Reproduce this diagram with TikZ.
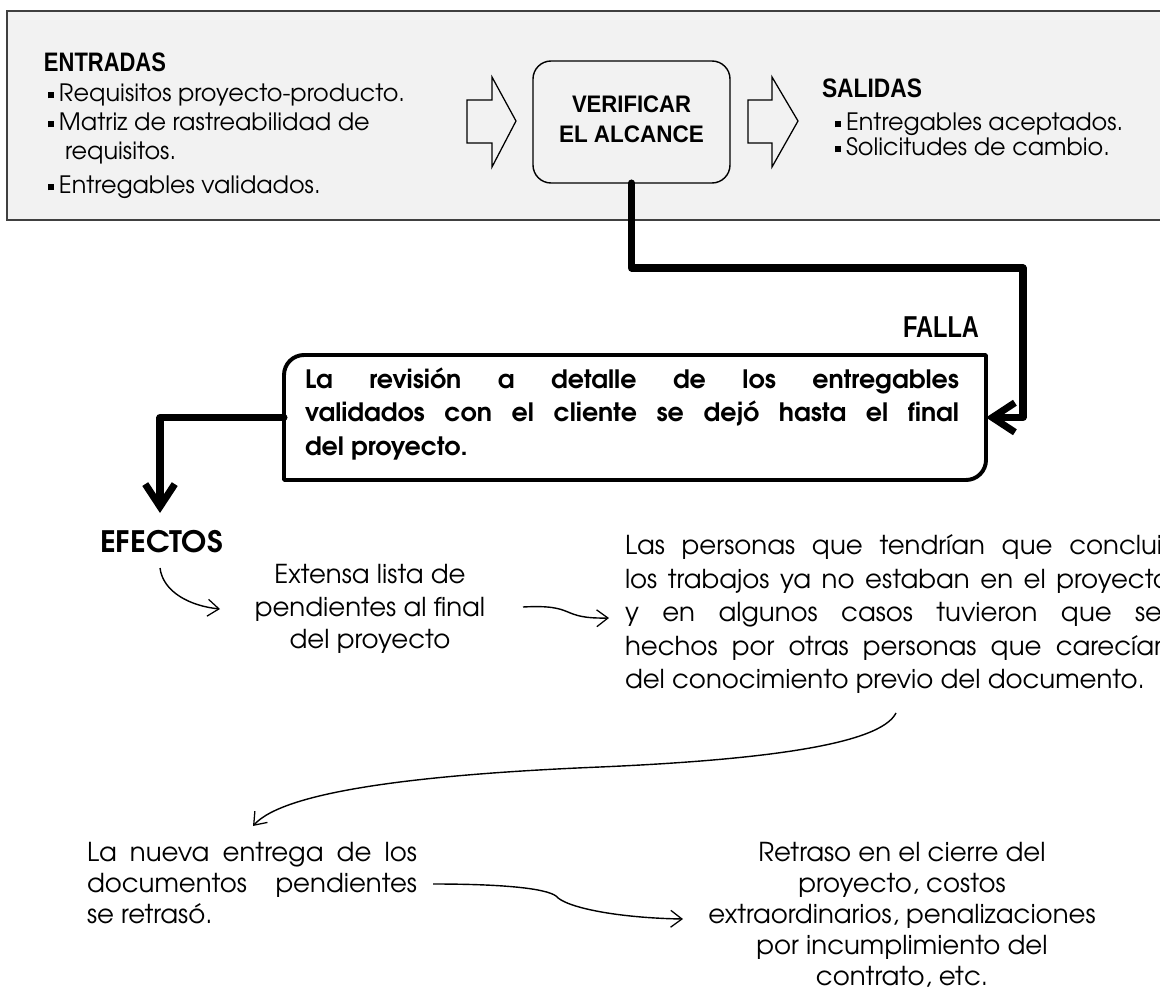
\documentclass[tikz,border=0pt]{standalone}
\usepackage{fontspec}
\setmainfont{texgyreadventor}[Extension=.otf,UprightFont=*-regular,BoldFont=*-bold,ItalicFont=*-italic,BoldItalicFont=*-bolditalic]
\newfontfamily\hdf{Liberation Sans}
\usetikzlibrary{arrows.meta}
\newlength\px \setlength\px{0.025cm}
\newcommand\hdw[3]{\resizebox{#1\px}{\height}{\fontsize{#2}{#2}\selectfont\hdf\bfseries #3}}
\newcommand\hdv[3]{\resizebox{#1\px}{\height}{\fontsize{#2}{#2}\selectfont\bfseries #3}}
\newcommand\bul{\rule[3.5\px]{6\px}{6\px}\hspace{5\px}}
\definecolor{boxgray}{HTML}{F2F2F2}
\definecolor{edge}{HTML}{404040}
\begin{document}
\begin{tikzpicture}[x=0.025cm,y=-0.025cm,
  every node/.style={inner sep=0pt,outer sep=0pt},
  item/.style={anchor=mid west,font=\fontsize{17}{20}\selectfont},
  body/.style={font=\fontsize{18.5}{22}\selectfont},
  bodyL/.style={body,anchor=mid west},
  bodyC/.style={body,anchor=mid},
  boldL/.style={anchor=mid west,font=\fontsize{18}{22}\selectfont\bfseries},
  hdr/.style={anchor=west},
  hollow/.style={draw=black,line width=0.9pt,fill=boxgray,line join=miter},
  heavy/.style={line width=5pt,line join=round,line cap=round},
  heavytip/.style={-{Straight Barb[length=16pt,width=21pt,line width=5pt]}},
  thinarrow/.style={line width=1pt,-{Straight Barb[length=8pt,width=12pt,line width=0.9pt]}}]
\useasboundingbox (0,0) rectangle (1160,998);
\clip (0,0) rectangle (1160,998);

% top region
\node[draw=edge,fill=boxgray,line width=1.1pt,minimum width=1163\px,minimum height=209\px,anchor=north west] (topbox) at (7,11) {};
\node[hdr] (ent) at (44,62) {\hdw{122}{19}{ENTRADAS}};
\node[item] (i1) at (48,98) {\bul Requisitos proyecto-producto.};
\node[item] (i2) at (48,127) {\bul Matriz de rastreabilidad de};
\node[item] (i3) at (65,156) {requisitos.};
\node[item] (i4) at (48,190) {\bul Entregables validados.};

\draw[hollow] (467,100) -- (492,100) -- (492,77) -- (516,121) -- (492,167) -- (492,143) -- (467,143) -- cycle;
\node[draw=black,line width=1pt,fill=boxgray,rounded corners=18\px,minimum width=197\px,minimum height=122\px] (ver) at (631.5,122) {};
\node (v1) at (631.5,104) {\hdw{119}{17}{VERIFICAR}};
\node (v2) at (631.5,134) {\hdw{145}{17}{EL ALCANCE}};
\draw[hollow] (748,100) -- (772,100) -- (772,77) -- (798,121) -- (772,167) -- (772,143) -- (748,143) -- cycle;

\node[hdr] (sal) at (822,88) {\hdw{100}{19}{SALIDAS}};
\node[item] (o1) at (835,127) {\bul Entregables aceptados.};
\node[item] (o2) at (835,152) {\bul Solicitudes de cambio.};

% failure
\node[anchor=east] (fal) at (979,327) {\hdw{76}{21.5}{FALLA}};
\node[minimum width=702\px,minimum height=125\px] (fb) at (635,417.5) {};
\draw[line width=2.8pt,line join=round]
  (fb.south west) -- ([yshift=-20\px]fb.north west) arc(180:90:20\px)
  -- (fb.north east) -- ([yshift=20\px]fb.south east) arc(0:-90:20\px) -- cycle;
\node[boldL] (f1) at (305,385) {\makebox[654\px][s]{La revisión a detalle de los entregables}};
\node[boldL] (f2) at (305,418) {\makebox[654\px][s]{validados con el cliente se dejó hasta el final}};
\node[boldL] (f3) at (305,452) {del proyecto.};

\coordinate (k1) at (1023,268);
\draw[heavy,heavytip] (ver.south) |- (k1) |- (fb.east);
\coordinate (dn) at (160,513);
\draw[heavy,heavytip] (fb.west) -| (dn);

% effects
\node[hdr] (efe) at (100,542) {\hdv{123}{21}{EFECTOS}};
\node[bodyC] (x1) at (370,580) {Extensa lista de};
\node[bodyC] (x2) at (370,613) {pendientes al final};
\node[bodyC] (x3) at (370,645) {del proyecto};

\node[bodyL] (p1) at (625,551) {\makebox[545\px][s]{Las personas que tendrían que concluir}};
\node[bodyL] (p2) at (625,585) {\makebox[545\px][s]{los trabajos ya no estaban en el proyecto}};
\node[bodyL] (p3) at (625,618) {\makebox[545\px][s]{y en algunos casos tuvieron que ser}};
\node[bodyL] (p4) at (625,652) {\makebox[545\px][s]{hechos por otras personas que carecían}};
\node[bodyL] (p5) at (625,685) {del conocimiento previo del documento.};

\node[bodyL] (n1) at (87,858) {\makebox[330\px][s]{La nueva entrega de los}};
\node[bodyL] (n2) at (87,889) {\makebox[330\px][s]{documentos pendientes}};
\node[bodyL] (n3) at (87,920) {se retrasó.};

\node[bodyC] (r1) at (902,858) {Retraso en el cierre del};
\node[bodyC] (r2) at (902,889) {proyecto, costos};
\node[bodyC] (r3) at (902,920) {extraordinarios, penalizaciones};
\node[bodyC] (r4) at (902,951) {por incumplimiento del};
\node[bodyC] (r5) at (902,982) {contrato, etc.};

% thin connectors
\coordinate (c1a) at (160,568);
\coordinate (c1b) at (220,609);
\draw[thinarrow] (c1a) .. controls (163,592) and (190,606) .. (c1b);
\coordinate (c2a) at (523,607);
\coordinate (c2b) at (609,618);
\draw[thinarrow] (c2a) .. controls (578,604) and (558,619) .. (c2b);
\coordinate (c3a) at (896,713);
\coordinate (c3b) at (253,826);
\draw[thinarrow] (c3a) .. controls (880,745) and (760,760) .. (600,767) .. controls (430,774) and (285,790) .. (c3b);
\coordinate (c4a) at (433,884);
\coordinate (c4b) at (683,919);
\draw[thinarrow] (c4a) .. controls (500,884) and (545,888) .. (556,896) .. controls (566,908) and (620,918) .. (c4b);
\end{tikzpicture}
\end{document}
